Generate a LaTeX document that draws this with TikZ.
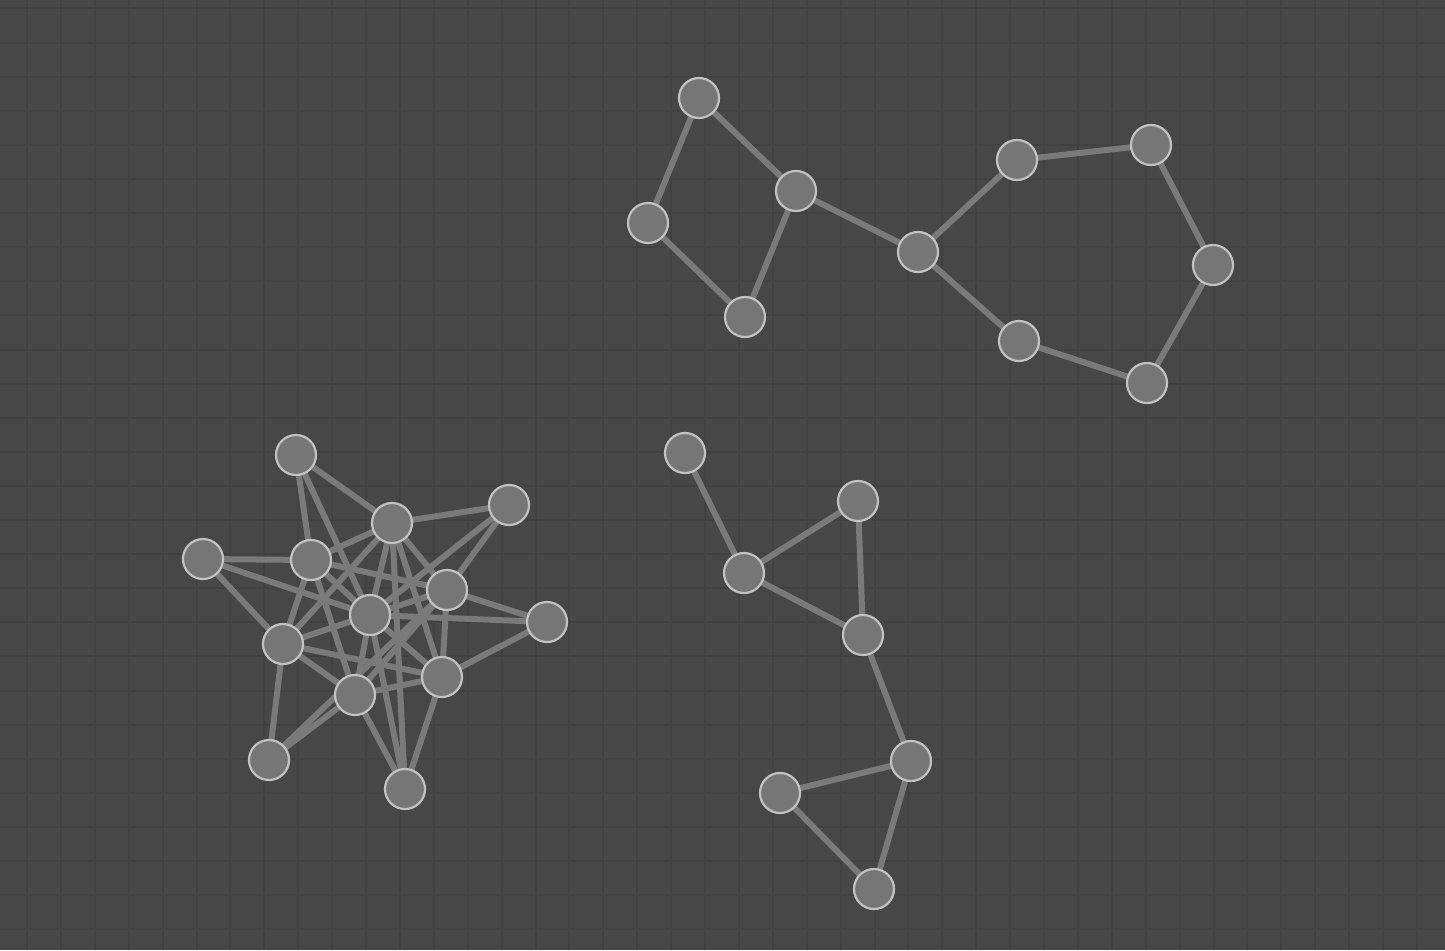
\documentclass[tikz,border=0pt]{standalone}
\usepackage{tikz}
\pgfdeclarelayer{grid}
\pgfdeclarelayer{background}
\pgfsetlayers{grid,background,main}
\definecolor{canvas}{HTML}{474747}
\definecolor{gridcol}{HTML}{414141}
\definecolor{vfill}{HTML}{767676}
\definecolor{vline}{HTML}{C2C2C2}
\definecolor{ecol}{HTML}{7A7A7A}

\begin{document}
\begin{tikzpicture}[x=1pt,y=-1pt,
    vertex/.style={circle, fill=vfill, draw=vline, line width=2.2pt, minimum size=40pt, inner sep=0pt},
    link/.style={ecol, line width=6pt},
    gridline/.style={gridcol, line width=2pt}]
  \useasboundingbox (0,0) rectangle (1445,950);
  \begin{pgfonlayer}{grid}
    \fill[canvas] (0,0) rectangle (1445,950);
    \foreach \gx in {0,...,42} \draw[gridline] ({27+33.9*\gx},0) -- ++(0,950);
    \foreach \gy in {0,...,27} \draw[gridline] (0,{8.5+34.1*\gy}) -- ++(1445,0);
  \end{pgfonlayer}

  \node[vertex] (s1) at (296,455) {};
  \node[vertex] (s2) at (392,523) {};
  \node[vertex] (s3) at (509,505) {};
  \node[vertex] (s4) at (203,559) {};
  \node[vertex] (s5) at (311,560) {};
  \node[vertex] (s6) at (447,590) {};
  \node[vertex] (s7) at (370,615) {};
  \node[vertex] (s8) at (547,622) {};
  \node[vertex] (s9) at (283,644) {};
  \node[vertex] (s10) at (442,677) {};
  \node[vertex] (s11) at (355,695) {};
  \node[vertex] (s12) at (269,760) {};
  \node[vertex] (s13) at (405,789) {};

  \node[vertex] (r1) at (699,98) {};
  \node[vertex] (r2) at (648,223) {};
  \node[vertex] (r3) at (796,191) {};
  \node[vertex] (r4) at (745,317) {};
  \node[vertex] (r5) at (918,252) {};
  \node[vertex] (r6) at (1017,160) {};
  \node[vertex] (r7) at (1151,145) {};
  \node[vertex] (r8) at (1213,265) {};
  \node[vertex] (r9) at (1147,383) {};
  \node[vertex] (r10) at (1019,341) {};

  \node[vertex] (t1) at (685,453) {};
  \node[vertex] (t2) at (744,573) {};
  \node[vertex] (t3) at (858,501) {};
  \node[vertex] (t4) at (863,635) {};
  \node[vertex] (t5) at (911,761) {};
  \node[vertex] (t6) at (780,793) {};
  \node[vertex] (t7) at (874,889) {};

  \begin{pgfonlayer}{background}
    \foreach \u/\v in {s1/s2, s1/s5, s1/s7, s2/s3, s2/s5, s2/s7, s2/s9, s2/s13, s2/s10, s2/s6,
        s3/s6, s3/s7, s4/s5, s4/s7, s4/s9, s5/s6, s5/s7, s5/s9, s5/s11,
        s6/s7, s6/s8, s6/s10, s6/s11, s6/s12, s7/s8, s7/s9, s7/s10, s7/s11, s7/s13,
        s8/s10, s9/s10, s9/s11, s9/s12, s10/s11, s10/s13, s11/s12, s11/s13}
      \draw[link] (\u.center) -- (\v.center);
    \foreach \u/\v in {r1/r2, r1/r3, r2/r4, r4/r3, r3/r5, r5/r6, r6/r7, r7/r8, r8/r9, r9/r10, r10/r5}
      \draw[link] (\u.center) -- (\v.center);
    \foreach \u/\v in {t1/t2, t2/t3, t3/t4, t2/t4, t4/t5, t5/t6, t6/t7, t7/t5}
      \draw[link] (\u.center) -- (\v.center);
  \end{pgfonlayer}
\end{tikzpicture}
\end{document}
